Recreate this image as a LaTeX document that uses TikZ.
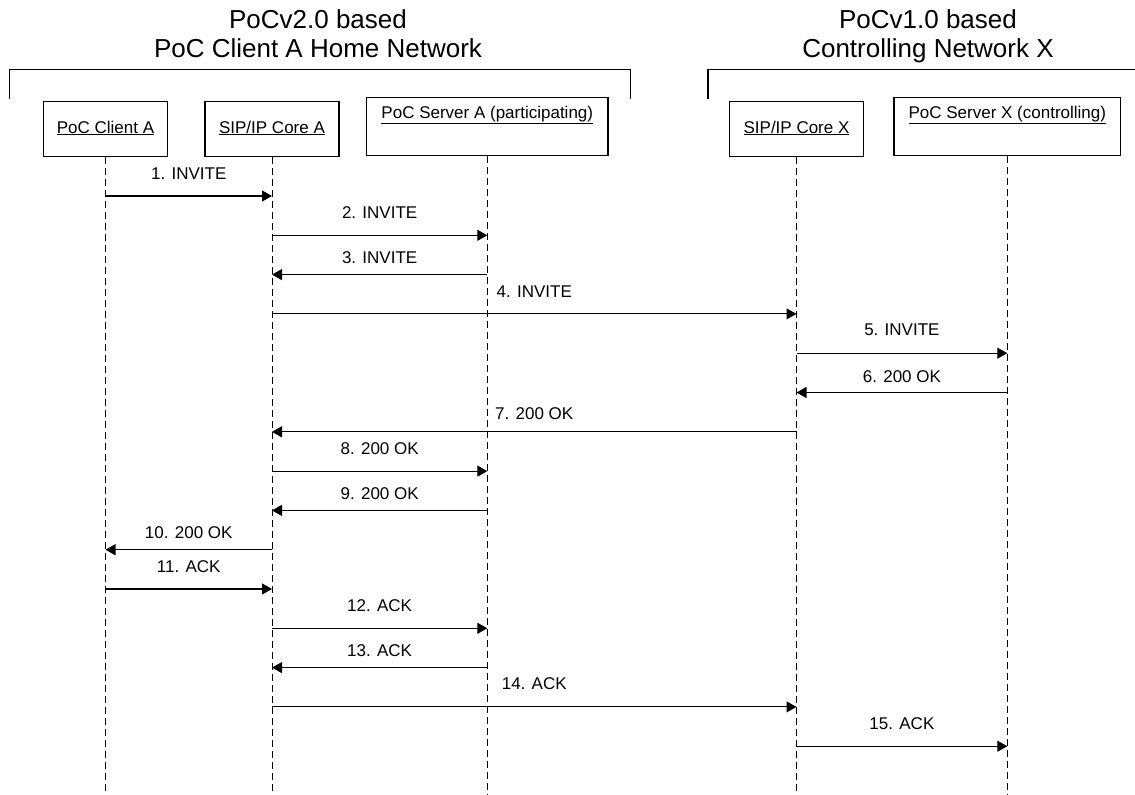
\documentclass[tikz,border=0pt]{standalone}
\usepackage{fontspec}
\setmainfont{Liberation Sans}
\usetikzlibrary{arrows.meta}
\begin{document}
\begin{tikzpicture}[x=1pt,y=-1pt,
  box/.style={draw,line width=1.1pt,inner sep=0pt,minimum height=55pt},
  life/.style={line width=1pt,dash pattern=on 7pt off 4pt},
  msg/.style={line width=1.1pt,-{Triangle[length=10pt,width=11pt]}},
  lbl/.style={font=\fontsize{17}{20}\selectfont,inner sep=0pt,text height=12pt,text depth=0pt},
  boxlbl/.style={font=\fontsize{17}{20}\selectfont,inner sep=0pt},
  ttl/.style={font=\fontsize{26}{29}\selectfont,inner sep=0pt,anchor=base},
  brk/.style={line width=1.3pt}]
\useasboundingbox (0,0) rectangle (1135,795);
% titles
\node[ttl] (t1a) at (318,28) {PoCv2.0 based};
\node[ttl] (t1b) at (318,57) {PoC Client A Home Network};
\node[ttl] (t2a) at (928,28) {PoCv1.0 based};
\node[ttl] (t2b) at (928,57) {Controlling Network X};
% brackets
\draw[brk] (9.5,99) -- (9.5,69.5) -- (630.5,69.5) -- (630.5,99);
\draw[brk] (708,99) -- (708,69.5) -- (1135,69.5);
% boxes
\node[box,minimum width=124.7pt,minimum height=55pt] (ca) at (105.5,129.2) {};
\node[boxlbl] (caL) at (105.5,128) {\underline{PoC Client A}};
\node[box,minimum width=134pt,minimum height=55pt] (cb) at (272,129.2) {};
\node[boxlbl] (cbL) at (272,128) {\underline{SIP/IP Core A}};
\node[box,minimum width=241.3pt,minimum height=58.5pt] (sa) at (487.3,126.5) {};
\node[boxlbl] (saL) at (487.3,115) {\underline{PoC Server A (participating)}};
\node[box,minimum width=134pt,minimum height=55pt] (cx) at (796.5,129.2) {};
\node[boxlbl] (cxL) at (796.5,128) {\underline{SIP/IP Core X}};
\node[box,minimum width=226.7pt,minimum height=58.5pt] (sx) at (1007.3,126.5) {};
\node[boxlbl] (sxL) at (1007.3,115) {\underline{PoC Server X (controlling)}};
% lifelines
\foreach \n in {ca,cb,sa,cx,sx}{
  \coordinate (\n end) at (\n.south |- 0,795);
  \draw[life] (\n.south) -- (\n end);
}
% messages
\foreach \i/\f/\t/\d/\txt in {
  1/ca/cb/23/{1. INVITE},
  2/cb/sa/23/{2. INVITE},
  3/sa/cb/17/{3. INVITE},
  4/cb/cx/22/{4. INVITE},
  5/cx/sx/24/{5. INVITE},
  6/sx/cx/16/{6. 200 OK},
  7/cx/cb/18/{7. 200 OK},
  8/cb/sa/23/{8. 200 OK},
  9/sa/cb/17/{9. 200 OK},
  10/cb/ca/17/{10. 200 OK},
  11/ca/cb/23/{11. ACK},
  12/cb/sa/23/{12. ACK},
  13/sa/cb/17/{13. ACK},
  14/cb/cx/23/{14. ACK},
  15/cx/sx/23/{15. ACK}}{
  \pgfmathsetmacro\yy{196+39.3*(\i-1)}
  \draw[msg] (\f.south |- 0,\yy) -- (\t.south |- 0,\yy)
    node[lbl,midway,yshift=\d pt] (m\i) {\txt};
}
\end{tikzpicture}
\end{document}
